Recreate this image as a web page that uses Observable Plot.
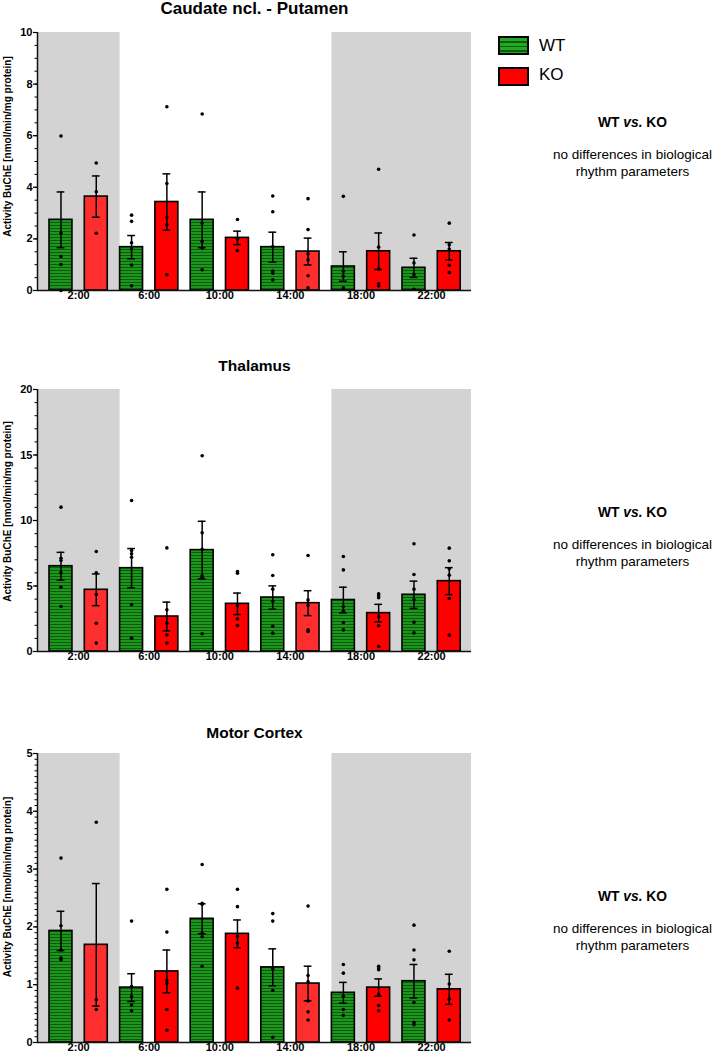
<!DOCTYPE html>
<html><head><meta charset="utf-8">
<script src="https://cdn.jsdelivr.net/npm/d3@7"></script>
<script src="https://cdn.jsdelivr.net/npm/@observablehq/plot@0.6"></script>
<style>
body{margin:0;background:#fff;font-family:"Liberation Sans",Arial,sans-serif;color:#000;}
#root{position:relative;width:713px;height:1053px;overflow:hidden;}
.abs{position:absolute;line-height:1;white-space:nowrap;}
.title{position:absolute;font-weight:bold;line-height:1;white-space:nowrap;transform:translateX(-50%);}
.note{position:absolute;left:532.5px;width:200px;text-align:center;line-height:1;white-space:nowrap;}
.panel{position:absolute;left:0;}
</style></head><body>
<svg width="0" height="0" style="position:absolute">
<defs>
<pattern id="wtStripes" patternUnits="userSpaceOnUse" width="8" height="3">
<rect width="8" height="3" fill="#1c961c"/><rect y="2" width="8" height="1" fill="#0b5a0b"/>
</pattern>
</defs></svg>
<div id="root"></div>
<script>
// ---------- data ----------
const times = ["2:00","6:00","10:00","14:00","18:00","22:00"];
const hours = [2,6,10,14,18,22];
const genotypes = ["WT","KO"];
const lightsOn = 6, lightsOff = 18; // dark phase shaded
const yLabel = "Activity BuChE [nmol/min/mg protein]";
const noteTitle = ["WT ", "vs.", " KO"];
const noteLines = ["no differences in biological", "rhythm parameters"];

const panelTitles = ["Caudate ncl. - Putamen", "Thalamus", "Motor Cortex"];
const yMax = [10, 20, 5];
const yMajor = [[0,2,4,6,8,10],[0,5,10,15,20],[0,1,2,3,4,5]];
const yMinorStep = [0.5, 1, 0.1];

// Caudate ncl. - Putamen
const caudateWTMean = [2.74, 1.68, 2.74, 1.68, 0.93, 0.88];
const caudateWTSem  = [1.08, 0.45, 1.08, 0.58, 0.57, 0.37];
const caudateKOMean = [3.64, 3.43, 2.04, 1.51, 1.52, 1.52];
const caudateKOSem  = [0.80, 1.09, 0.26, 0.52, 0.71, 0.34];
const caudateWTPoints = [[5.99,2.22,1.32,1.01,0.0],[2.92,2.68,1.85,1.61,0.99,0.18],[6.84,2.61,1.91,1.65,0.80],[3.66,3.05,1.70,0.75,0.67,0.41],[3.65,0.75,0.55,0.10],[2.15,1.07,0.62,0.05]];
const caudateKOPoints = [[4.94,3.83,2.22],[7.12,4.15,2.84,2.55,0.61],[2.75,1.99,1.55],[3.56,2.36,1.42,1.19,0.57,0.10],[4.70,1.68,0.84,0.26,0.18],[2.61,1.77,1.61,0.98,0.70]];

// Thalamus
const thalamusWTMean = [6.51, 6.36, 7.74, 4.12, 3.93, 4.33];
const thalamusWTSem  = [1.06, 1.50, 2.20, 0.89, 0.98, 1.04];
const thalamusKOMean = [4.71, 2.67, 3.64, 3.69, 2.93, 5.37];
const thalamusKOSem  = [1.21, 1.10, 0.82, 0.95, 0.67, 1.03];
const thalamusWTPoints = [[11.02,7.12,6.95,6.0,4.91,3.44],[11.53,7.71,7.46,7.2,3.59,1.02],[14.94,9.06,7.81,5.78,5.67,1.35],[7.38,5.80,4.76,3.84,1.93,1.40],[7.25,6.23,3.44,3.08,2.21,1.65],[8.22,5.88,4.76,3.95,2.24,1.42]];
const thalamusKOPoints = [[7.63,6.0,4.35,2.16,0.64],[7.91,3.18,2.16,1.27,0.64],[6.11,5.98,3.51,2.49,1.98],[7.33,3.94,3.51,1.65,1.53],[4.40,4.25,4.10,2.65,1.96,0.38],[7.89,6.92,6.31,5.83,4.05,1.25]];

// Motor Cortex
const motorWTMean = [1.93, 0.95, 2.14, 1.30, 0.86, 1.06];
const motorWTSem  = [0.34, 0.24, 0.26, 0.32, 0.18, 0.29];
const motorKOMean = [1.69, 1.23, 1.88, 1.02, 0.95, 0.92];
const motorKOSem  = [1.06, 0.37, 0.24, 0.30, 0.15, 0.26];
const motorWTPoints = [[3.19,2.02,1.60,1.46,1.43],[2.10,0.97,0.79,0.65,0.55],[3.08,2.41,2.39,1.89,1.83,1.32],[2.23,2.10,1.27,0.90,0.09],[1.35,1.20,0.80,0.57,0.47],[2.03,1.60,1.43,0.69,0.35,0.31]];
const motorKOPoints = [[3.81,0.74,0.57],[2.65,1.91,1.07,1.02,0.57,0.21],[2.65,2.35,1.84,1.72,0.94],[2.36,1.16,1.05,0.72,0.53,0.39],[1.32,1.29,1.26,0.83,0.64,0.55],[1.58,1.01,0.75,0.39]];

// ---------- layout ----------
const FONT = '"Liberation Sans", Arial, sans-serif';
const offset = {WT: -1, KO: 1};   // hours from time point to bar centre
const halfW = 0.65, capHalf = 0.22;
const xMin = hours[0] - 2.33, xMax = hours[hours.length-1] + 2.26;
const layouts = [
  {top: 22,  height: 288, mb: 20, labelDy: -15, titleY: 8.5,  titleSize: 17,   noteY: [122.7,155,171.7]},
  {top: 379, height: 292, mb: 20, labelDy: -9,  titleY: 366,  titleSize: 15.5, noteY: [512.7,545,561.7]},
  {top: 743, height: 310, mb: 11, labelDy: -11, titleY: 732.3,titleSize: 15.5, noteY: [897,929,945.7]}
];
const datasets = [
  {wtMean: caudateWTMean, wtSem: caudateWTSem, koMean: caudateKOMean, koSem: caudateKOSem, wtPts: caudateWTPoints, koPts: caudateKOPoints},
  {wtMean: thalamusWTMean, wtSem: thalamusWTSem, koMean: thalamusKOMean, koSem: thalamusKOSem, wtPts: thalamusWTPoints, koPts: thalamusKOPoints},
  {wtMean: motorWTMean, wtSem: motorWTSem, koMean: motorKOMean, koSem: motorKOSem, wtPts: motorWTPoints, koPts: motorKOPoints}
];

const root = document.getElementById("root");

function makePanel(p){
  const ds = datasets[p], L = layouts[p], ymax = yMax[p];
  const rows = [], pts = [];
  hours.forEach((h,i)=>{
    rows.push({g:"WT", i, h, mean: ds.wtMean[i], sem: ds.wtSem[i]});
    rows.push({g:"KO", i, h, mean: ds.koMean[i], sem: ds.koSem[i]});
    ds.wtPts[i].forEach(v=>pts.push({g:"WT", h, v}));
    ds.koPts[i].forEach(v=>pts.push({g:"KO", h, v}));
  });
  const xc = d => d.h + offset[d.g];
  const wtRows = rows.filter(d=>d.g==="WT");
  const koRows = rows.filter(d=>d.g==="KO");
  const koLight = koRows.filter(d=>d.i===0||d.i===3);
  const koDark = koRows.filter(d=>!(d.i===0||d.i===3));
  const shade = [
    {x1: xMin, x2: lightsOn + offset.WT - halfW},
    {x1: lightsOff + offset.WT - halfW, x2: xMax}
  ];
  const minor = d3.range(0, ymax + 1e-9, yMinorStep[p]).map(v=>+v.toFixed(3));
  const barOpts = (fill) => ({x1: d=>xc(d)-halfW, x2: d=>xc(d)+halfW, y1: 0, y2: "mean", fill, stroke:"#000", strokeWidth:1.6});
  const chart = Plot.plot({
    width: 480, height: L.height,
    marginLeft: 37, marginRight: 9, marginTop: 10, marginBottom: L.mb,
    x: {domain: [xMin, xMax]},
    y: {domain: [0, ymax]},
    style: {fontFamily: FONT, fontSize: "11px", fontWeight: "bold", color: "#000", background: "transparent", overflow: "visible"},
    marks: [
      Plot.rectY(shade, {x1:"x1", x2:"x2", y1:0, y2:ymax, fill:"#d3d3d3"}),
      Plot.rectY(wtRows, barOpts("url(#wtStripes)")),
      Plot.rectY(koDark, barOpts("#ff0000")),
      Plot.rectY(koLight, barOpts("#ff2e2e")),
      Plot.ruleX(rows, {x: xc, y1: d=>d.mean-d.sem, y2: d=>d.mean+d.sem, stroke:"#000", strokeWidth:1.5}),
      Plot.ruleY(rows, {y: d=>d.mean+d.sem, x1: d=>xc(d)-capHalf, x2: d=>xc(d)+capHalf, stroke:"#000", strokeWidth:1.5}),
      Plot.ruleY(rows, {y: d=>d.mean-d.sem, x1: d=>xc(d)-capHalf, x2: d=>xc(d)+capHalf, stroke:"#000", strokeWidth:1.5}),
      Plot.dot(pts, {x: xc, y: "v", r: 1.8, fill: "#000", stroke: "none"}),
      Plot.ruleY([0], {stroke:"#111", strokeWidth:1.5}),
      Plot.ruleX([xMin], {stroke:"#111", strokeWidth:1.5}),
      Plot.axisY({ticks: yMajor[p], tickSize: 4, tickPadding: 1, label: null, tickFormat: d=>String(d), strokeWidth: 1.2}),
      Plot.axisY({ticks: minor, tickSize: 2.5, label: null, tickFormat: ()=>"", strokeWidth: 1}),
      Plot.axisX({ticks: hours, tickSize: 0, tickPadding: 1, label: null, tickFormat: d=>times[hours.indexOf(d)]}),
      Plot.text([yLabel], {text: d=>d, frameAnchor: "left", textAnchor: "middle", lineAnchor: "middle", dx: -30, dy: L.labelDy, rotate: -90, fontSize: 10, fontWeight: "bold", fill: "#000"})
    ]
  });
  const wrap = document.createElement("div");
  wrap.className = "panel";
  wrap.style.top = L.top + "px";
  wrap.appendChild(chart);
  root.appendChild(wrap);

  // title
  const t = document.createElement("div");
  t.className = "title";
  t.style.fontSize = L.titleSize + "px";
  t.style.left = "254.5px";
  t.style.top = (L.titleY - 0.49*L.titleSize) + "px";
  t.textContent = panelTitles[p];
  root.appendChild(t);

  // note
  const n1 = document.createElement("div");
  n1.className = "note";
  n1.style.fontSize = "13.8px"; n1.style.fontWeight = "bold";
  n1.style.top = (L.noteY[0] - 0.49*13.8) + "px";
  n1.innerHTML = noteTitle[0] + "<i>" + noteTitle[1] + "</i>" + noteTitle[2];
  root.appendChild(n1);
  noteLines.forEach((line, k)=>{
    const n = document.createElement("div");
    n.className = "note";
    n.style.fontSize = "13.5px";
    n.style.top = (L.noteY[k+1] - 0.49*13.5) + "px";
    n.textContent = line;
    root.appendChild(n);
  });
}
[0,1,2].forEach(makePanel);

// legend
const legendSpec = [
  {label: genotypes[0], top: 36, h: 18.5, bg: "repeating-linear-gradient(to bottom, #24a824 0px, #24a824 3px, #0b5c0b 3px, #0b5c0b 4.5px)", textY: 45},
  {label: genotypes[1], top: 67, h: 19, bg: "#ff0000", textY: 74.5}
];
legendSpec.forEach(s=>{
  const sw = document.createElement("div");
  sw.className = "abs";
  Object.assign(sw.style, {left: "498px", top: s.top+"px", width: "30.5px", height: s.h+"px", background: s.bg, border: "2px solid #000", boxSizing: "border-box"});
  root.appendChild(sw);
  const tx = document.createElement("div");
  tx.className = "abs";
  Object.assign(tx.style, {left: "539px", top: (s.textY - 0.49*17)+"px", fontSize: "17px"});
  tx.textContent = s.label;
  root.appendChild(tx);
});
</script>
</body></html>
